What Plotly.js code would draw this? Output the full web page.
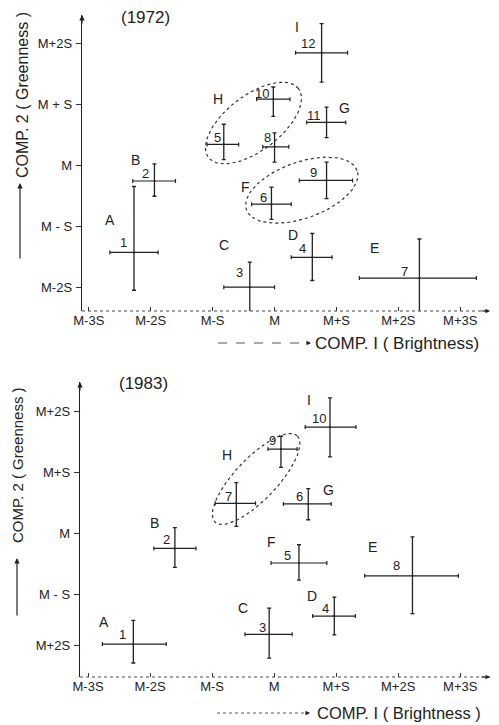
<!DOCTYPE html>
<html>
<head>
<meta charset="utf-8">
<script src="https://cdn.plot.ly/plotly-3.0.1.min.js"></script>
<style>html,body{margin:0;padding:0;background:#fff;}#chart{width:499px;height:725px;}</style>
</head>
<body>
<div id="chart"></div>
<script>
// ---------- DATA (units of S from the mean M) ----------
var xTickVals = [-3, -2, -1, 0, 1, 2, 3];
var xTickText = ["M-3S", "M-2S", "M-S", "M", "M+S", "M+2S", "M+3S"];
var yTickVals72 = [-2, -1, 0, 1, 2];
var yTickText72 = ["M-2S", "M - S", "M", "M + S", "M+2S"];
var yTickVals83 = [-1.85, -1, 0, 1, 2];
var yTickText83 = ["M+2S", "M - S", "M", "M+S", "M+2S"];

// 1972
var ids72    = ["1", "2", "3", "4", "5", "6", "7", "8", "9", "10", "11", "12"];
var x72      = [-2.27, -1.94, -0.40, 0.61, -0.82, -0.05, 2.34, 0.00, 0.84, -0.02, 0.84, 0.76];
var y72      = [-1.43, -0.26, -2.00, -1.51, 0.34, -0.64, -1.85, 0.30, -0.25, 1.08, 0.70, 1.84];
var xMinus72 = [0.39, 0.35, 0.42, 0.34, 0.27, 0.32, 0.97, 0.19, 0.44, 0.27, 0.32, 0.42];
var xPlus72  = [0.39, 0.34, 0.40, 0.32, 0.24, 0.32, 0.92, 0.23, 0.42, 0.27, 0.31, 0.42];
var yPlus72  = [1.08, 0.28, 0.41, 0.39, 0.33, 0.28, 0.64, 0.23, 0.30, 0.20, 0.25, 0.48];
var yMinus72 = [0.62, 0.25, 0.41, 0.38, 0.25, 0.25, 0.57, 0.25, 0.30, 0.28, 0.25, 0.48];
var letters72      = ["A", "B", "C", "D", "E", "F", "G", "H", "I"];
var letterAnchor72 = ["1", "2", "3", "4", "7", "6", "11", "5", "12"];

// 1983
var ids83    = ["1", "2", "3", "4", "5", "6", "7", "8", "9", "10"];
var x83      = [-2.27, -1.60, -0.08, 0.97, 0.40, 0.55, -0.61, 2.23, 0.11, 0.90];
var y83      = [-1.82, -0.25, -1.66, -1.36, -0.49, 0.48, 0.49, -0.70, 1.38, 1.74];
var xMinus83 = [0.50, 0.34, 0.39, 0.35, 0.45, 0.40, 0.34, 0.77, 0.21, 0.40];
var xPlus83  = [0.53, 0.34, 0.37, 0.34, 0.45, 0.37, 0.31, 0.74, 0.26, 0.42];
var yPlus83  = [0.39, 0.34, 0.43, 0.31, 0.30, 0.25, 0.34, 0.64, 0.21, 0.48];
var yMinus83 = [0.31, 0.31, 0.39, 0.31, 0.28, 0.26, 0.38, 0.62, 0.30, 0.49];
var letters83      = ["A", "B", "C", "D", "E", "F", "G", "H", "I"];
var letterAnchor83 = ["1", "2", "3", "4", "8", "5", "6", "7", "10"];

// Group ellipses (centre, semi-axes, tilt in degrees)
var ellNames72 = ["H", "F"];
var ellCx72 = [-0.34, 0.44];
var ellCy72 = [0.69, -0.41];
var ellA72  = [0.92, 0.95];
var ellB72  = [0.45, 0.46];
var ellAng72 = [38, 20];
var ellNames83 = ["H"];
var ellCx83 = [-0.29];
var ellCy83 = [0.89];
var ellA83  = [0.97];
var ellB83  = [0.34];
var ellAng83 = [47];

// ---------- STYLE / LAYOUT (label offsets in px) ----------
var numOff72 = {"1":[-11,10],"2":[-9,8],"3":[-10,15],"4":[-10,9],"5":[-6,7],"6":[-8,7],"7":[-15,7],"8":[-7,9],"9":[-13,8],"10":[-11,6],"11":[-13,7],"12":[-14,9]};
var letOff72 = {"A":[-24,32],"B":[-19,21],"C":[-26,42],"D":[-19,22],"E":[-45,30],"F":[-26,17],"G":[18,14],"H":[-6,45],"I":[-25,26]};
var numOff83 = {"1":[-11,10],"2":[-8,9],"3":[-7,7],"4":[-9,8],"5":[-11,8],"6":[-9,7],"7":[-8,7],"8":[-16,10],"9":[-8,9],"10":[-11,9]};
var letOff83 = {"A":[-29,22],"B":[-20,25],"C":[-26,26],"D":[-22,20],"E":[-40,29],"F":[-27,21],"G":[20,14],"H":[-9,48],"I":[-21,27]};

var W = 499, H = 725;
var FONT = "Liberation Sans, Arial, Helvetica, sans-serif";
var INK = "#222";
function px(x){ return x / W; }
function py(y){ return 1 - y / H; }

function crossTrace(x, y, xm, xp, ym, yp, xa, ya){
  return {
    type: "scatter", mode: "markers", x: x, y: y, xaxis: xa, yaxis: ya,
    marker: {size: 2, color: INK}, hoverinfo: "skip", showlegend: false,
    error_x: {type: "data", symmetric: false, array: xp, arrayminus: xm, color: INK, thickness: 1.2, width: 2},
    error_y: {type: "data", symmetric: false, array: yp, arrayminus: ym, color: INK, thickness: 1.3, width: 2}
  };
}
function ellipseTraces(cx, cy, a, b, ang, xa, ya){
  var out = [];
  for (var k = 0; k < cx.length; k++){
    var ex = [], ey = [], t = ang[k] * Math.PI / 180;
    for (var i = 0; i <= 80; i++){
      var th = 2 * Math.PI * i / 80;
      var u = a[k] * Math.cos(th), v = b[k] * Math.sin(th);
      ex.push(cx[k] + u * Math.cos(t) - v * Math.sin(t));
      ey.push(cy[k] + u * Math.sin(t) + v * Math.cos(t));
    }
    out.push({type: "scatter", mode: "lines", x: ex, y: ey, xaxis: xa, yaxis: ya,
      line: {color: "#333", width: 1.2, dash: "3px,3px"}, hoverinfo: "skip", showlegend: false});
  }
  return out;
}
function labelAnns(ids, x, y, numOff, letters, anchors, letOff, xa, ya){
  var out = [];
  ids.forEach(function(id, i){
    out.push({xref: xa, yref: ya, x: x[i], y: y[i], text: id, showarrow: false, xanchor: "center", yanchor: "middle",
      xshift: numOff[id][0], yshift: numOff[id][1], font: {family: FONT, size: 13, color: INK}});
  });
  letters.forEach(function(L, j){
    var i = ids.indexOf(anchors[j]);
    out.push({xref: xa, yref: ya, x: x[i], y: y[i], text: L, showarrow: false, xanchor: "center", yanchor: "middle",
      xshift: letOff[L][0], yshift: letOff[L][1], font: {family: FONT, size: 14, color: INK}});
  });
  return out;
}
function txt(x, y, s, size, extra){
  var a = {xref: "paper", yref: "paper", x: px(x), y: py(y), text: s, showarrow: false,
    xanchor: "center", yanchor: "middle", font: {family: FONT, size: size, color: INK}};
  for (var k in (extra || {})) a[k] = extra[k];
  return a;
}
function arrowAnn(xref, yref, x, y, ax, ay, w){
  return {xref: xref, yref: yref, x: x, y: y, ax: ax, ay: ay, text: "", showarrow: true,
    arrowhead: 2, arrowsize: 0.9, arrowwidth: w, arrowcolor: INK};
}

var data = [].concat(
  ellipseTraces(ellCx72, ellCy72, ellA72, ellB72, ellAng72, "x", "y"),
  ellipseTraces(ellCx83, ellCy83, ellA83, ellB83, ellAng83, "x2", "y2"),
  [crossTrace(x72, y72, xMinus72, xPlus72, yMinus72, yPlus72, "x", "y"),
   crossTrace(x83, y83, xMinus83, xPlus83, yMinus83, yPlus83, "x2", "y2")]
);

function xAxis(domain, range, anchor){
  return {domain: domain, range: range, anchor: anchor, tickmode: "array", tickvals: xTickVals, ticktext: xTickText,
    ticks: "inside", ticklen: 4, tickcolor: "#333", tickwidth: 1, showgrid: false, zeroline: false, showline: false,
    tickfont: {family: FONT, size: 13, color: INK}, fixedrange: true};
}
function yAxis(domain, range, anchor, tv, tt){
  return {domain: domain, range: range, anchor: anchor, tickmode: "array", tickvals: tv, ticktext: tt,
    ticks: "outside", ticklen: 5, tickcolor: "#333", tickwidth: 1, showgrid: false, zeroline: false,
    showline: true, linecolor: INK, linewidth: 1.3, ticklabelstandoff: 1,
    tickfont: {family: FONT, size: 13, color: INK}, fixedrange: true};
}

var annotations = [].concat(
  labelAnns(ids72, x72, y72, numOff72, letters72, letterAnchor72, letOff72, "x", "y"),
  labelAnns(ids83, x83, y83, numOff83, letters83, letterAnchor83, letOff83, "x2", "y2"),
  [
    txt(145, 17, "(1972)", 17),
    txt(143, 383, "(1983)", 17),
    txt(22, 95, "COMP. 2 ( Greenness )", 16, {textangle: -90}),
    txt(18, 465, "COMP. 2 ( Greenness )", 15, {textangle: -90}),
    arrowAnn("paper", "paper", px(20), py(183), 0, 77, 1.2),
    arrowAnn("paper", "paper", px(17), py(558), 0, 59, 1.2),
    txt(313, 343, "COMP. I ( Brightness)", 17, {xanchor: "left"}),
    txt(315, 713, "COMP. I ( Brightness )", 16.5, {xanchor: "left"}),
    arrowAnn("paper", "paper", px(311), py(343), -6, 0, 1),
    arrowAnn("paper", "paper", px(310), py(713), -6, 0, 1),
    // axis arrowheads
    arrowAnn("x domain", "y domain", 0, 1, 0, 10, 1.2),
    arrowAnn("x domain", "y domain", 1, 0, -10, 0, 1),
    arrowAnn("x2 domain", "y2 domain", 0, 1, 0, 10, 1.2),
    arrowAnn("x2 domain", "y2 domain", 1, 0, -10, 0, 1)
  ]
);

var shapes = [
  {type: "line", xref: "x domain", yref: "y domain", x0: 0, x1: 1, y0: 0, y1: 0, line: {color: "#444", width: 1, dash: "dot"}},
  {type: "line", xref: "x2 domain", yref: "y2 domain", x0: 0, x1: 1, y0: 0, y1: 0, line: {color: "#444", width: 1, dash: "dot"}},
  {type: "line", xref: "paper", yref: "paper", x0: px(218), x1: px(307), y0: py(343), y1: py(343), line: {color: "#555", width: 1, dash: "dash"}},
  {type: "line", xref: "paper", yref: "paper", x0: px(217), x1: px(306), y0: py(713), y1: py(713), line: {color: "#555", width: 1, dash: "dot"}}
];

var layout = {
  width: W, height: H, margin: {l: 0, r: 0, t: 0, b: 0}, showlegend: false,
  paper_bgcolor: "#fff", plot_bgcolor: "#fff",
  xaxis: xAxis([px(82), px(490)], [-3.11, 3.48], "y"),
  yaxis: yAxis([py(311), py(15)], [-2.39, 2.46], "x", yTickVals72, yTickText72),
  xaxis2: xAxis([px(80), px(490)], [-3.13, 3.48], "y2"),
  yaxis2: yAxis([py(677), py(382)], [-2.36, 2.48], "x2", yTickVals83, yTickText83),
  annotations: annotations, shapes: shapes
};

Plotly.newPlot("chart", data, layout, {staticPlot: true, displayModeBar: false});
</script>
</body>
</html>
